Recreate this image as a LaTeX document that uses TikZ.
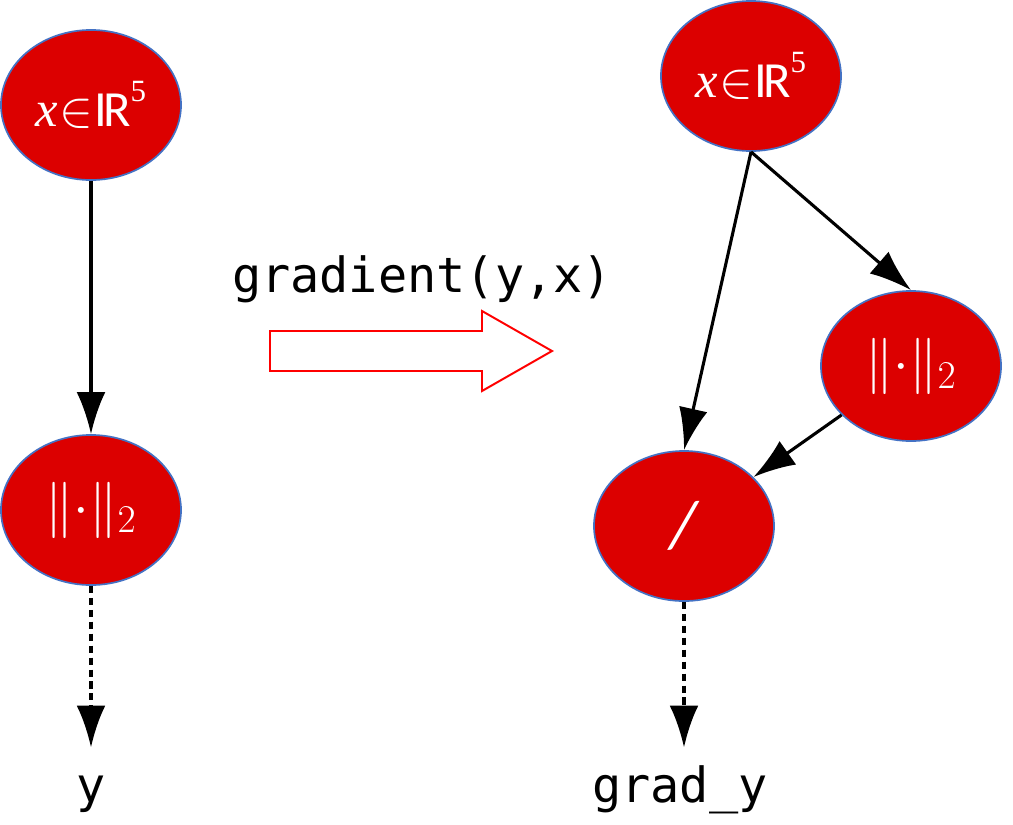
\RequirePackage{fix-cm}
\documentclass[tikz,border=0pt]{standalone}
\usepackage{fontspec}
\setmonofont{DejaVu Sans Mono}
\newfontfamily\calfont{Carlito}
\newfontfamily\serfont{Liberation Serif}
\usepackage{xcolor}
\usepackage{tikz}
\usetikzlibrary{arrows.meta,positioning,shapes.geometric}

\definecolor{opred}{RGB}{220,0,0}
\definecolor{opedge}{RGB}{68,114,196}

\begin{document}
\begin{tikzpicture}[
    x=0.025cm,y=-0.025cm,
    >={Latex[length=1.05cm,width=0.72cm]},
    opnode/.style={ellipse,draw=opedge,line width=1.2pt,fill=opred,text=white,minimum width=4.5cm,minimum height=3.75cm,inner sep=0pt,font=\calfont\fontsize{36}{42}\selectfont},
    outlabel/.style={anchor=base,inner sep=0pt,text height=1.35cm,font=\ttfamily\fontsize{34.5}{40}\selectfont},
    callnote/.style={anchor=base,inner sep=0pt,font=\ttfamily\fontsize{34.5}{40}\selectfont},
    flow/.style={->,line width=2.2pt},
    dashflow/.style={->,line width=2.8pt,dash pattern=on 5pt off 3.5pt}
  ]
    \useasboundingbox (0,0) rectangle (1013,824);

    % before
    \node[opnode] (xin) at (91,105) {{\serfont\itshape x}\kern0.03em$\in$\kern0.02em I\kern-0.08em R\raisebox{0.5em}{\serfont\fontsize{22}{26}\selectfont 5}};
    \node[opnode,font=\fontsize{40}{46}\selectfont] (norm) at (91,510) {$\|{\cdot}\|_{2}$};
    \node[outlabel] (ylab) at (91,802) {y};

    \draw[flow] (xin) -- (norm);
    \draw[dashflow] (norm) -- (ylab);

    % transformation
    \node[callnote] (gradcall) at (422,292) {gradient(y,x)};
    \draw[red,line width=1.4pt] (270,331) -- (482,331) -- (482,311) -- (552,351)
      -- (482,391) -- (482,371) -- (270,371) -- cycle;

    % after
    \node[opnode] (xin2) at (751,76) {{\serfont\itshape x}\kern0.03em$\in$\kern0.02em I\kern-0.08em R\raisebox{0.5em}{\serfont\fontsize{22}{26}\selectfont 5}};
    \node[opnode,font=\fontsize{40}{46}\selectfont] (norm2) at (911,366) {$\|{\cdot}\|_{2}$};
    \node[opnode,font=\calfont\fontsize{48}{54}\selectfont] (div) at (684,526) {\itshape /};
    \node[outlabel] (gradlab) at (680,802) {grad\_y};

    \draw[flow] (xin2.south) -- (div.north);
    \draw[flow] (xin2.south) -- (norm2.north);
    \draw[flow] (norm2) -- (div);
    \draw[dashflow] (div.south) -- (div.south |- gradlab.north);
\end{tikzpicture}
\end{document}
